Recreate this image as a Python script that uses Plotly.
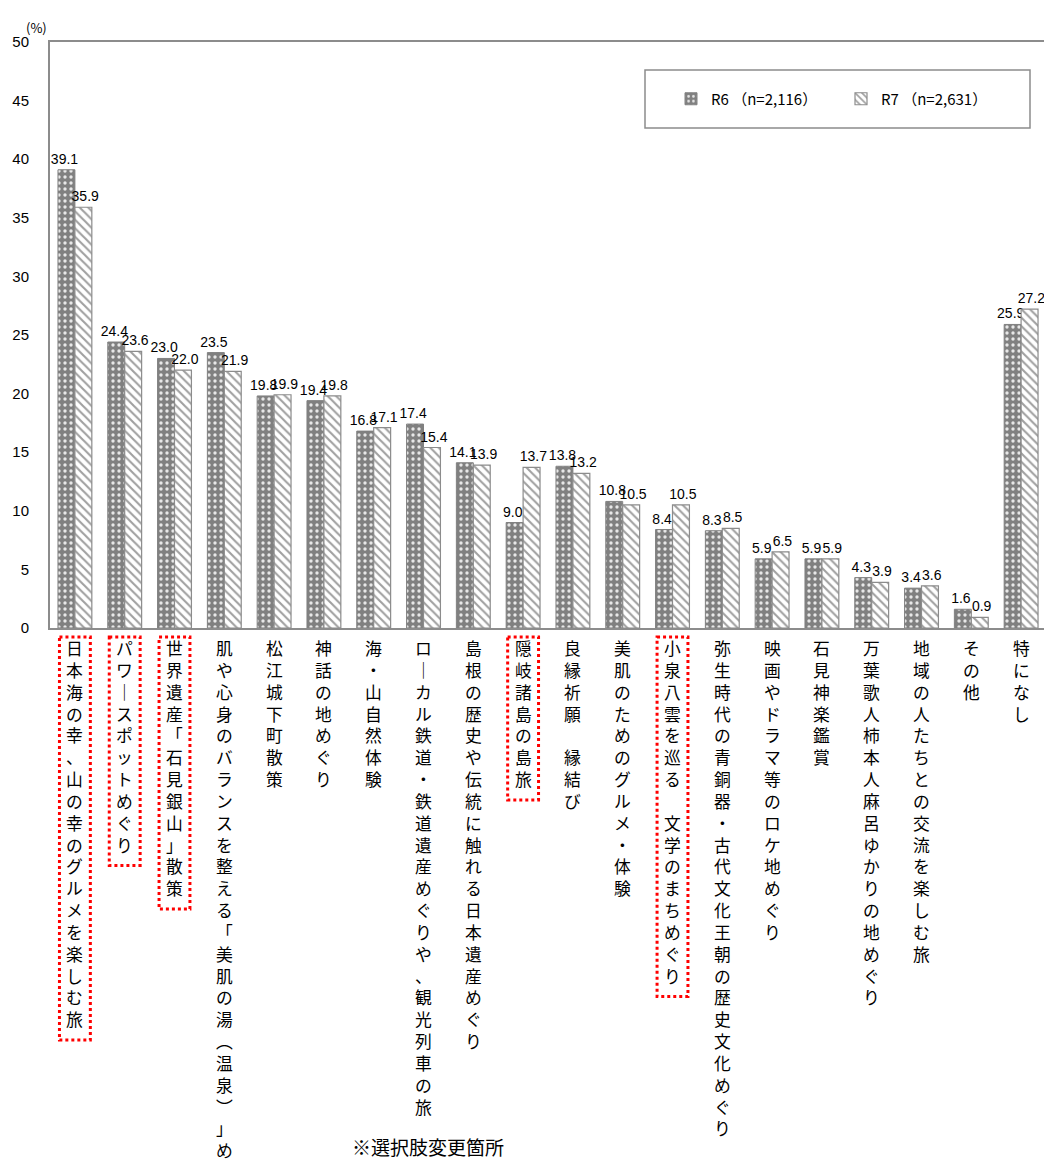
import plotly.graph_objects as go

categories = [
    "日本海の幸、山の幸のグルメを楽しむ旅",
    "パワースポットめぐり",
    "世界遺産「石見銀山」散策",
    "肌や心身のバランスを整える「美肌の湯︵温泉︶」めぐり",
    "松江城下町散策",
    "神話の地めぐり",
    "海・山自然体験",
    "ローカル鉄道・鉄道遺産めぐりや、観光列車の旅",
    "島根の歴史や伝統に触れる日本遺産めぐり",
    "隠岐諸島の島旅",
    "良縁祈願　縁結び",
    "美肌のためのグルメ・体験",
    "小泉八雲を巡る　文学のまちめぐり",
    "弥生時代の青銅器・古代文化王朝の歴史文化めぐり",
    "映画やドラマ等のロケ地めぐり",
    "石見神楽鑑賞",
    "万葉歌人柿本人麻呂ゆかりの地めぐり",
    "地域の人たちとの交流を楽しむ旅",
    "その他",
    "特になし",
]
r6_values = [39.1, 24.4, 23.0, 23.5, 19.8, 19.4, 16.8, 17.4, 14.1, 9.0,
             13.8, 10.8, 8.4, 8.3, 5.9, 5.9, 4.3, 3.4, 1.6, 25.9]
r7_values = [35.9, 23.6, 22.0, 21.9, 19.9, 19.8, 17.1, 15.4, 13.9, 13.7,
             13.2, 10.5, 10.5, 8.5, 6.5, 5.9, 3.9, 3.6, 0.9, 27.2]
changed = [True, True, True, False, False, False, False, False, False, True,
           False, False, True, False, False, False, False, False, False, False]
series_names = ["R6 （n=2,116）", "R7 （n=2,631）"]
y_ticks = [0, 5, 10, 15, 20, 25, 30, 35, 40, 45, 50]

# page body has an 8px default margin; build the figure so that the
# plot lands at the reference's screen positions
OFF = 8
SCR_W, SCR_H = 1052, 1160
W, H = SCR_W - OFF, SCR_H - OFF
PLOT_L, PLOT_R, PLOT_T, PLOT_B = 50, 1046, 42, 628   # screen pixels
ML, MR = PLOT_L - OFF, SCR_W - PLOT_R
MT, MB = PLOT_T - OFF, SCR_H - PLOT_B
PW, PH = PLOT_R - PLOT_L, PLOT_B - PLOT_T


def px(sx):
    return (sx - PLOT_L) / PW


def py(sy):
    return (PLOT_B - sy) / PH


JP = "Noto Sans CJK JP"
NUM = "Liberation Sans, Arial, sans-serif"
NB = "\u00a0"

fig = go.Figure()
fig.add_trace(go.Bar(
    x=categories, y=r6_values, name=series_names[0],
    marker=dict(color="#808080", line=dict(color="#808080", width=1),
                pattern=dict(shape=".", fgcolor="#e8e8e8", bgcolor="#808080",
                             size=6, solidity=0.25, fillmode="replace")),
    text=[f"{v:.1f}" + NB for v in r6_values], textposition="outside",
    constraintext="none",
    textfont=dict(family=NUM, size=14, color="black"), cliponaxis=False,
))
fig.add_trace(go.Bar(
    x=categories, y=r7_values, name=series_names[1],
    marker=dict(color="white", line=dict(color="#8c8c8c", width=1.2),
                pattern=dict(shape="\\", fgcolor="#a0a0a0", bgcolor="white",
                             size=6, solidity=0.35, fillmode="replace")),
    text=[NB + f"{v:.1f}" for v in r7_values], textposition="outside",
    constraintext="none",
    textfont=dict(family=NUM, size=14, color="black"), cliponaxis=False,
))


def vertical(s):
    s = s.replace("ー", "｜")
    return "<br>".join(list(s))


FS = 16.8
LINE = FS * 1.3
annotations = []
shapes = []
for i, (c, flag) in enumerate(zip(categories, changed)):
    annotations.append(dict(
        x=c, xref="x", y=0, yref="paper", yanchor="top", xanchor="center",
        yshift=-6, text=vertical(c), showarrow=False, align="center",
        font=dict(family=JP, size=FS, color="black"),
    ))
    if flag:
        top_px = 637
        bot_px = top_px + LINE * len(c) + 10
        shapes.append(dict(
            type="rect", xref="x", yref="paper",
            x0=i - 0.31, x1=i + 0.31, y0=py(top_px), y1=py(bot_px),
            line=dict(color="#ff0000", width=3, dash="dot"),
        ))

# legend box
shapes.append(dict(
    type="rect", xref="paper", yref="paper",
    x0=px(645), x1=px(1030), y0=py(128), y1=py(70),
    line=dict(color="#8c8c8c", width=1.5), fillcolor="white", layer="below",
))

annotations.append(dict(
    x=px(49), xref="paper", y=1, yref="paper", yanchor="bottom", xanchor="right",
    yshift=3, text="(%)", showarrow=False,
    font=dict(family=JP, size=13, color="black"),
))
annotations.append(dict(
    x=px(428), xref="paper", y=py(1146), yref="paper",
    xanchor="center", yanchor="middle", text="※選択肢変更箇所", showarrow=False,
    font=dict(family=JP, size=19, color="black"),
))

fig.update_layout(
    width=W, height=H,
    margin=dict(l=ML, r=MR, t=MT, b=MB, autoexpand=False),
    paper_bgcolor="white", plot_bgcolor="white",
    barmode="group", bargap=0.32, bargroupgap=0,
    showlegend=True,
    legend=dict(orientation="h", x=px(671), xanchor="left",
                y=py(99), yanchor="middle",
                font=dict(family=JP, size=15, color="black"),
                bgcolor="rgba(0,0,0,0)", borderwidth=0,
                entrywidth=125, entrywidthmode="pixels", itemwidth=30),
    annotations=annotations, shapes=shapes,
    xaxis=dict(showticklabels=False, ticks="", showline=True, linecolor="#8c8c8c",
               linewidth=2, mirror=True, showgrid=False, zeroline=False,
               range=[-0.5, len(categories) - 0.5]),
    yaxis=dict(range=[0, 50], tickvals=y_ticks, ticks="", showgrid=False,
               zeroline=False, showline=True, linecolor="#8c8c8c", linewidth=2,
               tickfont=dict(family=NUM, size=15, color="black"),
               ticklabelstandoff=16),
)

fig.write_html("out.html")
